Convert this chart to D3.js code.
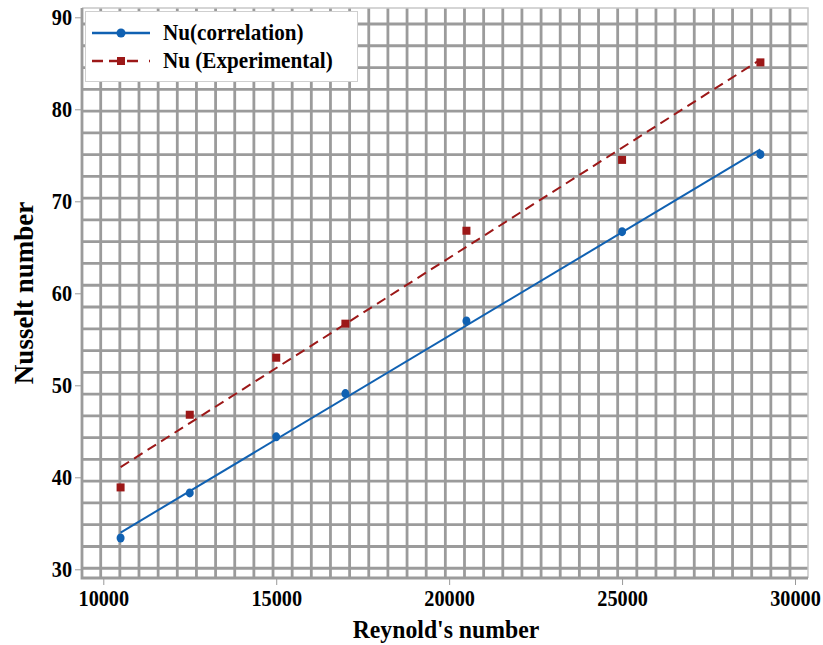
<!DOCTYPE html>
<html>
<head>
<meta charset="utf-8">
<script src="https://cdn.jsdelivr.net/npm/d3@7"></script>
<style>
  body { margin: 0; background: #fff; }
  svg text { font-family: "Liberation Serif", "Times New Roman", serif !important; font-weight: bold; fill: #000; }
</style>
</head>
<body>
<div id="chart"></div>
<script>
// data
var reynolds = [10500, 12500, 15000, 17000, 20500, 25000, 29000];
var nuCorrelation = [33.4, 38.3, 44.4, 49.1, 57.0, 66.7, 75.1];
var nuExperimental = [38.9, 46.8, 53.0, 56.7, 66.8, 74.5, 85.1];
var xTicks = [10000, 15000, 20000, 25000, 30000];
var yTicks = [30, 40, 50, 60, 70, 80, 90];
var seriesNames = ["Nu(correlation)", "Nu (Experimental)"];

var width = 823, height = 645;
var serif = "'Liberation Serif', 'Times New Roman', serif";
// plot frame
var plot = {left: 82, right: 808, top: 8, bottom: 578};

var x = d3.scaleLinear().domain([10000, 30000]).range([103.3, 795]);
var y = d3.scaleLinear().domain([30, 90]).range([569.3, 17.3]);

var svg = d3.select("#chart")
  .append("svg")
    .attr("width", width)
    .attr("height", height)
    .attr("font-family", serif);

// background grid (regular pattern, not tied to ticks)
var gridColor = "#9b9b9b";
var gx = d3.range(100.7, 791, 19.147);
var gy = d3.range(24, 570, 21.77);

svg.append("rect")
  .attr("x", plot.left).attr("y", plot.top)
  .attr("width", plot.right - plot.left).attr("height", plot.bottom - plot.top)
  .attr("fill", "#fff");

svg.append("g").selectAll("line").data(gx).enter().append("line")
  .attr("x1", function(d) { return d; }).attr("x2", function(d) { return d; })
  .attr("y1", plot.top).attr("y2", plot.bottom)
  .attr("stroke", gridColor).attr("stroke-width", 2.8);

svg.append("g").selectAll("line").data(gy).enter().append("line")
  .attr("y1", function(d) { return d; }).attr("y2", function(d) { return d; })
  .attr("x1", plot.left).attr("x2", plot.right)
  .attr("stroke", gridColor).attr("stroke-width", 2.8);

// frame: light top/right, heavier left/bottom
svg.append("path")
  .attr("d", "M" + plot.left + "," + plot.top + "H" + plot.right + "V" + plot.bottom)
  .attr("fill", "none").attr("stroke", "#c8c8c8").attr("stroke-width", 1.5);
svg.append("path")
  .attr("d", "M" + plot.left + "," + plot.top + "V" + plot.bottom + "H" + plot.right)
  .attr("fill", "none").attr("stroke", gridColor).attr("stroke-width", 2.8);

// axes (labels in the picture are a bit narrow, so squeeze them)
var xAxis = svg.append("g")
  .attr("transform", "translate(0," + (plot.bottom + 1) + ")")
  .call(d3.axisBottom(x).tickValues(xTicks).tickSize(6).tickPadding(5).tickFormat(d3.format("d")));
xAxis.attr("font-family", serif).attr("font-size", 22.5).attr("font-weight", "bold");
xAxis.select(".domain").remove();
xAxis.selectAll(".tick line").attr("stroke", "#999");
xAxis.selectAll(".tick text").attr("transform", "scale(0.9,1)");

var yAxis = svg.append("g")
  .attr("transform", "translate(" + (plot.left - 1) + ",0)")
  .call(d3.axisLeft(y).tickValues(yTicks).tickSize(6).tickPadding(4));
yAxis.attr("font-family", serif).attr("font-size", 22.5).attr("font-weight", "bold");
yAxis.select(".domain").remove();
yAxis.selectAll(".tick line").attr("stroke", "#999");
yAxis.selectAll(".tick text").attr("transform", "scale(0.9,1)");

// axis titles
svg.append("text")
  .attr("transform", "translate(446,638) scale(0.95,1)")
  .attr("text-anchor", "middle")
  .attr("font-size", 25)
  .text("Reynold's number");

svg.append("text")
  .attr("transform", "translate(33,293) rotate(-90)")
  .attr("text-anchor", "middle")
  .attr("font-size", 27)
  .text("Nusselt number");

// least squares trend line
function fit(xs, ys) {
  var mx = d3.mean(xs), my = d3.mean(ys);
  var sxy = d3.sum(xs, function(v, i) { return (v - mx) * (ys[i] - my); });
  var sxx = d3.sum(xs, function(v) { return (v - mx) * (v - mx); });
  var b = sxy / sxx, a = my - b * mx;
  var ends = d3.extent(xs);
  return ends.map(function(v) { return [v, a + b * v]; });
}

var blue = "#1061b2", red = "#9c1818";
var line = d3.line()
  .x(function(d) { return x(d[0]); })
  .y(function(d) { return y(d[1]); });

svg.append("path")
  .attr("d", line(fit(reynolds, nuCorrelation)))
  .attr("fill", "none").attr("stroke", blue).attr("stroke-width", 2);

svg.append("path")
  .attr("d", line(fit(reynolds, nuExperimental)))
  .attr("fill", "none").attr("stroke", red).attr("stroke-width", 2)
  .attr("stroke-dasharray", "10,6");

// markers
svg.append("g").selectAll("ellipse").data(reynolds).enter().append("ellipse")
  .attr("cx", function(d) { return x(d); })
  .attr("cy", function(d, i) { return y(nuCorrelation[i]); })
  .attr("rx", 4).attr("ry", 4.5)
  .attr("fill", blue);

svg.append("g").selectAll("rect").data(reynolds).enter().append("rect")
  .attr("x", function(d) { return x(d) - 4; })
  .attr("y", function(d, i) { return y(nuExperimental[i]) - 4; })
  .attr("width", 8).attr("height", 8)
  .attr("fill", red);

// legend
var legend = svg.append("g");
legend.append("rect")
  .attr("x", 85.5).attr("y", 11.5).attr("width", 272).attr("height", 70)
  .attr("fill", "#fff").attr("stroke", "#cfcfcf").attr("stroke-width", 1);

legend.append("line")
  .attr("x1", 92).attr("x2", 150).attr("y1", 33).attr("y2", 33)
  .attr("stroke", blue).attr("stroke-width", 2.5);
legend.append("circle").attr("cx", 121).attr("cy", 33).attr("r", 4.5).attr("fill", blue);

legend.append("line")
  .attr("x1", 92).attr("x2", 150).attr("y1", 61).attr("y2", 61)
  .attr("stroke", red).attr("stroke-width", 2.5)
  .attr("stroke-dasharray", "11,6,12,6,11");
legend.append("rect").attr("x", 117).attr("y", 57).attr("width", 8).attr("height", 8).attr("fill", red);

legend.selectAll("text").data(seriesNames).enter().append("text")
  .attr("transform", function(d, i) { return "translate(163," + (40 + i * 27.5) + ") scale(0.92,1)"; })
  .attr("font-size", 23)
  .text(function(d) { return d; });
</script>
</body>
</html>
